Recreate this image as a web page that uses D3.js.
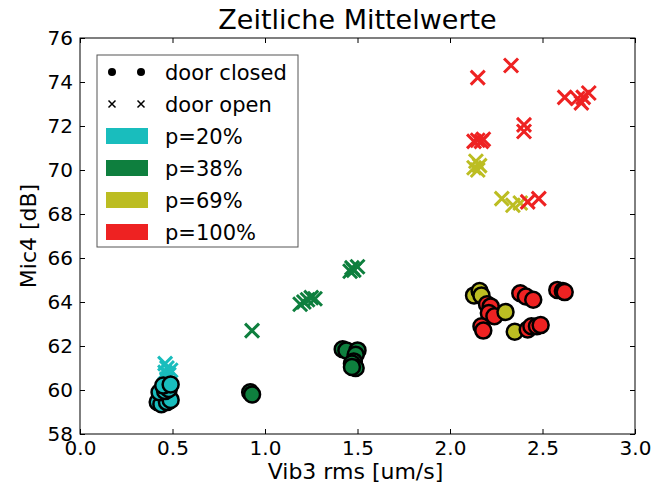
<!DOCTYPE html>
<html>
<head>
<meta charset="utf-8">
<script src="https://cdn.jsdelivr.net/npm/d3@7"></script>
<style>
  html, body { margin: 0; padding: 0; background: #fff; }
  svg { display: block; font-family: "DejaVu Sans", sans-serif; }
</style>
</head>
<body>
<svg id="chart" width="667" height="491"></svg>
<script>
// Time-averaged values: vibration rms vs. microphone level, grouped by pressure level
const levelLabels = ["p=20%", "p=38%", "p=69%", "p=100%"];
const levelColors = ["#19bdbd", "#0e7f3e", "#bcbd22", "#ee2222"];

// door closed, [Vib3 rms, Mic4]
const closed20 = [[0.42,59.45],[0.44,59.35],[0.47,59.45],[0.49,59.55],[0.43,59.9],[0.46,59.95],[0.48,60.05],[0.45,60.2],[0.49,60.25]];
const closed38 = [[0.92,59.9],[0.93,59.8],[1.42,61.85],[1.44,61.8],[1.5,61.8],[1.49,61.6],[1.48,61.3],[1.47,61.2],[1.49,61.0],[1.47,61.05]];
const closed69 = [[2.13,64.3],[2.16,64.5],[2.17,64.3]];
const closed100 = [[2.2,63.9],[2.22,63.8],[2.21,63.5],[2.24,63.35],[2.17,62.9],[2.18,62.7],
                   [2.38,64.4],[2.41,64.25],[2.45,64.1],[2.58,64.55],[2.61,64.5],[2.62,64.45]];
const closed69late = [[2.3,63.55],[2.35,62.65]];
const closed100late = [[2.42,62.75],[2.44,62.9],[2.47,62.9],[2.49,62.95]];

// door open, [Vib3 rms, Mic4]
const open20 = [[0.46,61.2],[0.47,61.0],[0.46,60.8],[0.48,60.7],[0.47,60.5],[0.49,60.9]];
const open38 = [[0.93,62.7],[1.19,63.9],[1.21,64.0],[1.23,64.1],[1.25,64.2],[1.27,64.15],[1.46,65.4],[1.47,65.55],[1.48,65.45],[1.5,65.6]];
const open69 = [[2.13,70.1],[2.14,70.4],[2.15,70.0],[2.16,70.2],[2.28,68.7],[2.34,68.4],[2.38,68.5]];
const open100 = [[2.15,74.2],[2.33,74.75],[2.62,73.3],[2.69,73.25],[2.71,73.05],[2.72,73.3],[2.75,73.5],
                 [2.4,72.05],[2.4,71.75],[2.13,71.3],[2.15,71.35],[2.17,71.3],[2.18,71.4],[2.42,68.55],[2.48,68.7]];

const xTicks = [0.0, 0.5, 1.0, 1.5, 2.0, 2.5, 3.0];
const yTicks = [58, 60, 62, 64, 66, 68, 70, 72, 74, 76];

const svg = d3.select("#chart");
const plotLeft = 80, plotRight = 635, plotTop = 38, plotBottom = 434;

const x = d3.scaleLinear().domain([0, 3]).range([plotLeft, plotRight]);
const y = d3.scaleLinear().domain([58, 76]).range([plotBottom, plotTop]);

// Title
svg.append("text")
  .attr("x", (plotLeft + plotRight) / 2).attr("y", 29)
  .attr("text-anchor", "middle")
  .attr("font-size", 27)
  .text("Zeitliche Mittelwerte");

// Open-door markers (x)
const openSets = [open20, open38, open69, open100];
const xs = 7;
openSets.forEach((set, i) => {
  const g = svg.append("g").attr("stroke", levelColors[i]).attr("stroke-width", 3).attr("fill", "none");
  set.forEach(d => {
    const cx = x(d[0]), cy = y(d[1]);
    g.append("path").attr("d", `M${cx - xs},${cy - xs}L${cx + xs},${cy + xs}M${cx - xs},${cy + xs}L${cx + xs},${cy - xs}`);
  });
});

// Closed-door markers (circles)
const closedSets = [[closed20, 0], [closed38, 1], [closed69, 2], [closed100, 3], [closed69late, 2], [closed100late, 3]];
closedSets.forEach(([set, i]) => {
  svg.append("g").selectAll("circle").data(set).join("circle")
    .attr("cx", d => x(d[0])).attr("cy", d => y(d[1]))
    .attr("r", 8)
    .attr("fill", levelColors[i])
    .attr("stroke", "#000").attr("stroke-width", 2.5);
});

// Axes with inward ticks on all four sides
const tickFont = 20;
const gx = svg.append("g").attr("transform", `translate(0,${plotBottom})`)
  .call(d3.axisBottom(x).tickValues(xTicks).tickFormat(d3.format(".1f")).tickSizeInner(-5).tickSizeOuter(0).tickPadding(7));
const gxt = svg.append("g").attr("transform", `translate(0,${plotTop})`)
  .call(d3.axisTop(x).tickValues(xTicks).tickFormat("").tickSizeInner(-5).tickSizeOuter(0));
const gy = svg.append("g").attr("transform", `translate(${plotLeft},0)`)
  .call(d3.axisLeft(y).tickValues(yTicks).tickFormat(d3.format("d")).tickSizeInner(-5).tickSizeOuter(0).tickPadding(7));
const gyr = svg.append("g").attr("transform", `translate(${plotRight},0)`)
  .call(d3.axisRight(y).tickValues(yTicks).tickFormat("").tickSizeInner(-5).tickSizeOuter(0));
[gx, gxt, gy, gyr].forEach(g => {
  g.select(".domain").remove();
  g.selectAll("line").attr("stroke", "#000");
  g.selectAll("text").attr("font-size", tickFont).attr("font-family", "DejaVu Sans").attr("fill", "#000");
});

// Frame
svg.append("rect")
  .attr("x", plotLeft).attr("y", plotTop).attr("width", plotRight - plotLeft).attr("height", plotBottom - plotTop)
  .attr("fill", "none").attr("stroke", "#000").attr("stroke-width", 1);

// Axis labels
svg.append("text")
  .attr("x", (plotLeft + plotRight) / 2 - 2).attr("y", 479)
  .attr("text-anchor", "middle").attr("font-size", 22)
  .text("Vib3 rms [um/s]");
svg.append("text")
  .attr("transform", `translate(36,${(plotTop + plotBottom) / 2}) rotate(-90)`)
  .attr("text-anchor", "middle").attr("font-size", 22)
  .text("Mic4 [dB]");

// Legend
const leg = svg.append("g");
leg.append("rect")
  .attr("x", 97).attr("y", 55).attr("width", 201).attr("height", 192)
  .attr("fill", "#fff").attr("stroke", "#555").attr("stroke-width", 1);
const rowY = i => 72 + i * 32;
const mx1 = 112, mx2 = 141, textX = 165;
// door closed
[mx1, mx2].forEach(cx => leg.append("circle").attr("cx", cx).attr("cy", rowY(0)).attr("r", 4).attr("fill", "#000"));
// door open
[mx1, mx2].forEach(cx => leg.append("path")
  .attr("d", `M${cx - 3.5},${rowY(1) - 3.5}L${cx + 3.5},${rowY(1) + 3.5}M${cx - 3.5},${rowY(1) + 3.5}L${cx + 3.5},${rowY(1) - 3.5}`)
  .attr("stroke", "#000").attr("stroke-width", 1.5));
const legendTexts = ["door closed", "door open"].concat(levelLabels);
legendTexts.forEach((t, i) => {
  leg.append("text").attr("x", textX).attr("y", rowY(i)).attr("dy", "0.36em")
    .attr("font-size", 21).text(t);
});
levelColors.forEach((c, i) => {
  leg.append("rect").attr("x", 106).attr("y", rowY(i + 2) - 8).attr("width", 42).attr("height", 16)
    .attr("fill", c);
});
</script>
</body>
</html>
